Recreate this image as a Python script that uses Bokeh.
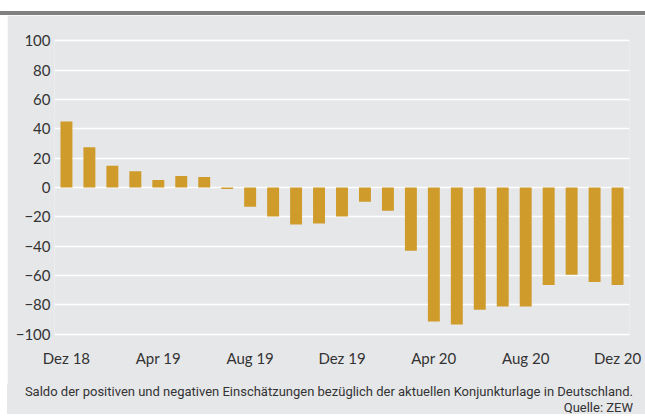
from bokeh.plotting import figure
from bokeh.models import FixedTicker, Div, Spacer
from bokeh.layouts import column, row
from bokeh.embed import file_html
from bokeh.resources import INLINE

months = ["Dez 18", "Jan 19", "Feb 19", "Mär 19", "Apr 19", "Mai 19", "Jun 19", "Jul 19",
          "Aug 19", "Sep 19", "Okt 19", "Nov 19", "Dez 19", "Jan 20", "Feb 20", "Mär 20",
          "Apr 20", "Mai 20", "Jun 20", "Jul 20", "Aug 20", "Sep 20", "Okt 20", "Nov 20", "Dez 20"]
saldo = [45.0, 27.5, 14.8, 11.1, 5.2, 7.8, 7.2, -1.0,
         -13.2, -19.8, -25.2, -24.5, -19.8, -9.8, -15.8, -43.1,
         -91.5, -93.5, -83.5, -81.2, -81.2, -66.5, -59.5, -64.5, -66.5]
tick_idx = [0, 4, 8, 12, 16, 20, 24]
y_ticks = [-100, -80, -60, -40, -20, 0, 20, 40, 60, 80, 100]
note = "Saldo der positiven und negativen Einschätzungen bezüglich der aktuellen Konjunkturlage in Deutschland."
source = "Quelle: ZEW"

BG = "#e6e7e9"
BAR = "#cf9b2b"
TXT = "#333333"
RULE = "#808080"

xs = list(range(len(months)))

p = figure(width=638, height=369, output_backend="svg", toolbar_location=None,
           x_range=(-0.52, 24.52), y_range=(-101, 101),
           min_border_left=47, min_border_right=16, min_border_top=24, min_border_bottom=49,
           margin=0)
p.background_fill_color = BG
p.border_fill_color = BG
p.outline_line_color = None

p.vbar(x=xs, top=saldo, bottom=0, width=0.52, color=BAR, line_color=None)

p.xgrid.grid_line_color = None
p.ygrid.grid_line_color = "white"
p.ygrid.grid_line_width = 1.5
p.ygrid.ticker = FixedTicker(ticks=y_ticks)

p.yaxis.ticker = FixedTicker(ticks=y_ticks)
p.xaxis.ticker = FixedTicker(ticks=tick_idx)
p.xaxis.major_label_overrides = {i: months[i] for i in tick_idx}
for ax in (p.xaxis, p.yaxis):
    ax.axis_line_color = None
    ax.major_tick_line_color = None
    ax.minor_tick_line_color = None
    ax.major_tick_out = 0
    ax.major_tick_in = 0
    ax.minor_tick_out = 0
    ax.minor_tick_in = 0
    ax.major_label_text_font = "Lato"
    ax.major_label_text_font_size = "15px"
    ax.major_label_text_color = TXT
p.yaxis.major_label_standoff = 4
p.xaxis.major_label_standoff = 13

foot = Div(text=note + "<br>" + source, width=626, height=30, margin=0,
           styles={"background-color": BG, "font-family": "Roboto", "font-size": "13px",
                   "line-height": "16px", "color": TXT, "text-align": "right",
                   "white-space": "nowrap"})
foot_pad = Div(text="", width=12, height=30, margin=0, styles={"background-color": BG})

top_gap = Spacer(width=645, height=11, margin=0)
rule = Div(text="", width=645, height=4, margin=0, styles={"background-color": RULE})
layout = column(top_gap, rule,
                row(Spacer(width=7, height=369, margin=0), p, spacing=0, margin=0),
                row(Spacer(width=7, height=30, margin=0), foot, foot_pad, spacing=0, margin=0),
                spacing=0, margin=0)

open("out.html", "w").write(file_html(layout, INLINE))
